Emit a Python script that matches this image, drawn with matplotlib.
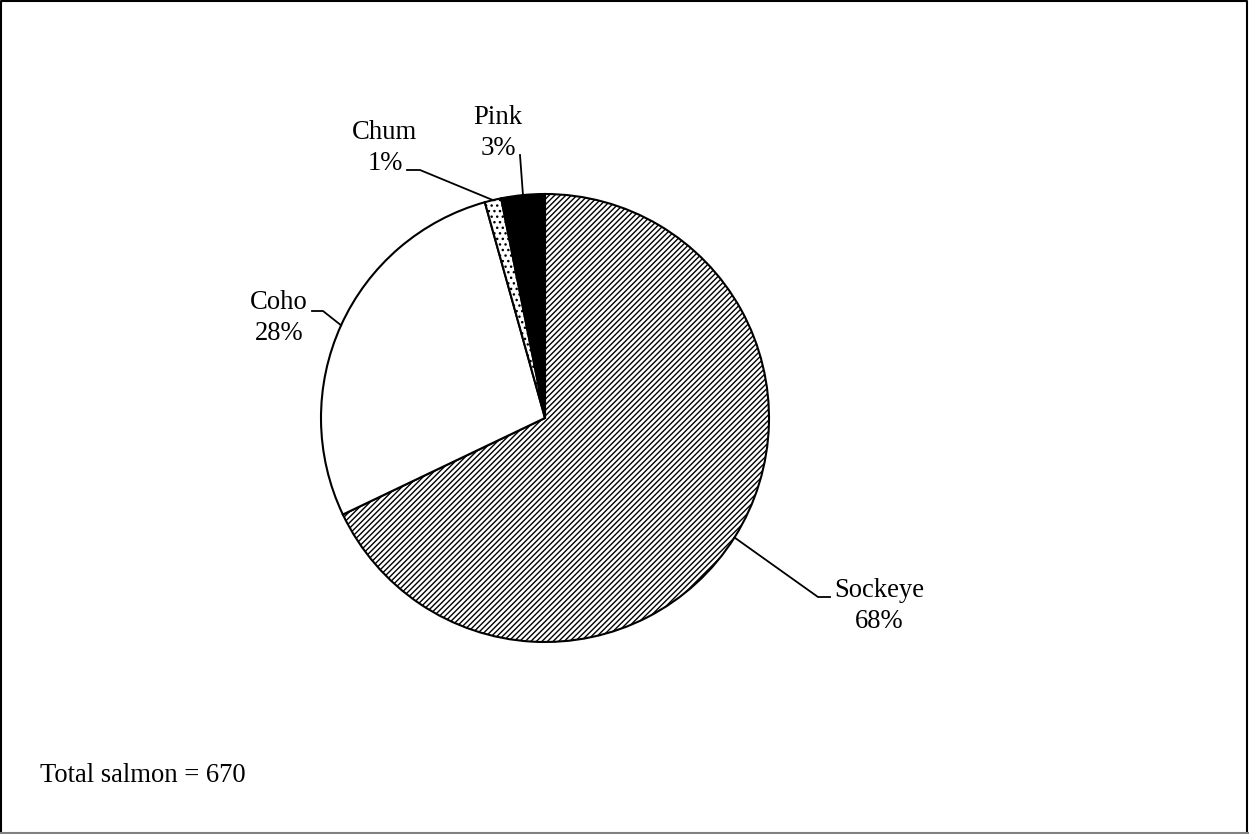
import numpy as np
import matplotlib
matplotlib.use("Agg")
import matplotlib.pyplot as plt
from matplotlib.lines import Line2D

# Salmon catch by species (counts, total 670)
species = ["Sockeye", "Coho", "Chum", "Pink"]
counts = [455, 186, 8, 21]
total_label = "Total salmon = 670"

plt.rcParams["font.family"] = ["Liberation Serif", "DejaVu Serif"]
plt.rcParams["hatch.linewidth"] = 1.0

W, H = 1249, 834
fig = plt.figure(figsize=(W / 100, H / 100), dpi=100)
ax = fig.add_axes([0, 0, 1, 1])

cx, cy, r = 545, H - 418, 224
fills = ["white", "white", "white", "black"]
hatches = ["//////", None, "...", None]

wedges, _ = ax.pie(counts, startangle=90, counterclock=False,
                   center=(cx, cy), radius=r, colors=fills,
                   wedgeprops=dict(edgecolor="black", linewidth=1.5))
for w, h in zip(wedges, hatches):
    if h:
        w.set_hatch(h)

ax.set_xlim(0, W)
ax.set_ylim(0, H)
ax.set_aspect("equal")
ax.axis("off")

# label text centre and leader elbow (pixel coords from top-left)
text_pos = {"Sockeye": (879, 606), "Coho": (279, 318), "Chum": (385, 148), "Pink": (498, 133)}
elbow = {"Sockeye": [(830, 597), (818, 597)], "Coho": [(312, 311), (323, 311)],
         "Chum": [(407, 170), (420, 170)], "Pink": [(520, 155)]}

pcts = [c / sum(counts) * 100 for c in counts]
for w, name, p in zip(wedges, species, pcts):
    mid = np.deg2rad((w.theta1 + w.theta2) / 2)
    ex, ey = cx + r * np.cos(mid), cy + r * np.sin(mid)
    pts = [(x, H - y) for x, y in elbow[name]] + [(ex, ey)]
    xs, ys = zip(*pts)
    ax.add_line(Line2D(xs, ys, color="black", linewidth=1.3))
    tx, ty = text_pos[name]
    ax.text(tx, H - ty, f"{name}\n{p:.0f}%", ha="center", va="center",
            fontsize=19.2, linespacing=1.3)

ax.text(40, H - 775, total_label, ha="left", va="center", fontsize=19.2)

# outer frame
ax.add_line(Line2D([1, 1, W - 2, W - 2], [0, H - 1, H - 1, 0], color="black", linewidth=1.5))
ax.add_line(Line2D([0, W], [1, 1], color="#808080", linewidth=1.5))

fig.savefig("out.png", dpi=100)
